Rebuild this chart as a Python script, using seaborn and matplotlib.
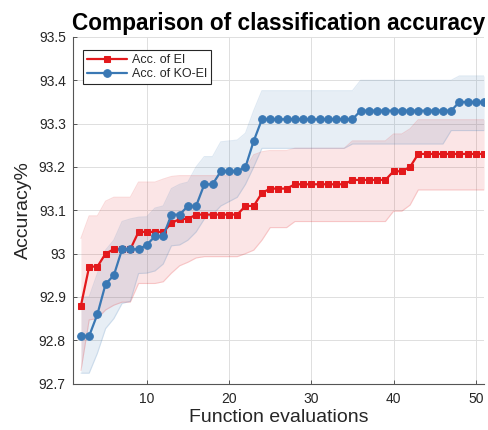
import matplotlib
matplotlib.use("Agg")
import matplotlib.pyplot as plt
import seaborn as sns
import pandas as pd
from matplotlib.ticker import FuncFormatter

# ---- data ----
evals = list(range(2, 52))

ei_mean = [92.88, 92.97, 92.97, 93.00, 93.01, 93.01, 93.01, 93.05, 93.05, 93.05,
           93.05, 93.07, 93.08, 93.08, 93.09, 93.09, 93.09, 93.09, 93.09, 93.09,
           93.11, 93.11, 93.14, 93.15, 93.15, 93.15, 93.16, 93.16, 93.16, 93.16,
           93.16, 93.16, 93.16, 93.17, 93.17, 93.17, 93.17, 93.17, 93.19, 93.19,
           93.20, 93.23, 93.23, 93.23, 93.23, 93.23, 93.23, 93.23, 93.23, 93.23]
ei_upper = [93.035, 93.087, 93.087, 93.121, 93.13, 93.13, 93.13, 93.165, 93.165, 93.165,
            93.172, 93.178, 93.18, 93.18, 93.18, 93.18, 93.18, 93.18, 93.18, 93.182,
            93.197, 93.228, 93.235, 93.238, 93.238, 93.238, 93.243, 93.243, 93.243, 93.243,
            93.243, 93.243, 93.243, 93.26, 93.26, 93.26, 93.26, 93.26, 93.276, 93.276,
            93.288, 93.309, 93.309, 93.309, 93.309, 93.309, 93.309, 93.309, 93.309, 93.309]
ei_lower = [92.73, 92.847, 92.85, 92.87, 92.881, 92.888, 92.888, 92.931, 92.931, 92.931,
            92.935, 92.955, 92.972, 92.98, 92.99, 92.993, 92.993, 92.993, 92.993, 92.993,
            93.0, 93.008, 93.031, 93.06, 93.06, 93.06, 93.074, 93.074, 93.074, 93.074,
            93.074, 93.074, 93.074, 93.074, 93.074, 93.074, 93.074, 93.074, 93.098, 93.098,
            93.112, 93.147, 93.147, 93.147, 93.147, 93.147, 93.147, 93.147, 93.147, 93.147]

ko_mean = [92.81, 92.81, 92.86, 92.93, 92.95, 93.01, 93.01, 93.01, 93.02, 93.04,
           93.04, 93.09, 93.09, 93.11, 93.11, 93.16, 93.16, 93.19, 93.19, 93.19,
           93.20, 93.26, 93.31, 93.31, 93.31, 93.31, 93.31, 93.31, 93.31, 93.31,
           93.31, 93.31, 93.31, 93.31, 93.33, 93.33, 93.33, 93.33, 93.33, 93.33,
           93.33, 93.33, 93.33, 93.33, 93.33, 93.33, 93.35, 93.35, 93.35, 93.35]
ko_upper = [92.9, 92.9, 92.954, 93.008, 93.031, 93.074, 93.08, 93.084, 93.085, 93.105,
            93.11, 93.15, 93.16, 93.165, 93.2, 93.224, 93.224, 93.258, 93.26, 93.262,
            93.278, 93.33, 93.376, 93.376, 93.376, 93.376, 93.376, 93.376, 93.376, 93.376,
            93.376, 93.376, 93.376, 93.376, 93.40, 93.40, 93.40, 93.40, 93.40, 93.40,
            93.40, 93.40, 93.40, 93.40, 93.40, 93.40, 93.41, 93.41, 93.41, 93.41]
ko_lower = [92.724, 92.724, 92.77, 92.827, 92.85, 92.885, 92.89, 92.954, 92.955, 92.96,
            92.976, 93.018, 93.02, 93.031, 93.05, 93.08, 93.09, 93.11, 93.12, 93.13,
            93.16, 93.20, 93.243, 93.243, 93.243, 93.243, 93.243, 93.243, 93.243, 93.243,
            93.243, 93.243, 93.243, 93.253, 93.253, 93.253, 93.253, 93.253, 93.253, 93.253,
            93.253, 93.253, 93.253, 93.253, 93.253, 93.284, 93.284, 93.284, 93.284, 93.284]

series_labels = ["Acc. of EI", "Acc. of KO-EI"]
x_ticks = [10, 20, 30, 40, 50]
y_ticks = [92.7, 92.8, 92.9, 93.0, 93.1, 93.2, 93.3, 93.4, 93.5]

RED = "#e3191c"
BLUE = "#3a78b4"

sns.set_style("whitegrid")
plt.rcParams["font.family"] = ["Liberation Sans", "DejaVu Sans"]

df = pd.DataFrame({"evals": evals, "ei": ei_mean, "ko": ko_mean})

fig = plt.figure(figsize=(4.88, 4.30), dpi=100)
ax = fig.add_axes([0.149, 0.108, 0.843, 0.806])

ax.fill_between(evals, ei_lower, ei_upper, facecolor=RED, alpha=0.11, lw=0, zorder=1)
ax.fill_between(evals, ko_lower, ko_upper, facecolor=BLUE, alpha=0.12, lw=0, zorder=1)
for lo, hi, c in [(ei_lower, ei_upper, RED), (ko_lower, ko_upper, BLUE)]:
    ax.plot(evals, lo, color=c, alpha=0.16, lw=0.8, zorder=1.5)
    ax.plot(evals, hi, color=c, alpha=0.16, lw=0.8, zorder=1.5)

sns.lineplot(data=df, x="evals", y="ei", ax=ax, color=RED, marker="s",
             markersize=4, markeredgecolor=RED, linewidth=1.6, label=series_labels[0], zorder=3)
sns.lineplot(data=df, x="evals", y="ko", ax=ax, color=BLUE, marker="o",
             markersize=5.5, markeredgecolor=BLUE, linewidth=1.6, label=series_labels[1], zorder=4)

ax.set_xlim(1, 51)
ax.set_ylim(92.7, 93.5)
ax.set_xticks(x_ticks)
ax.set_yticks(y_ticks)
ax.yaxis.set_major_formatter(FuncFormatter(lambda v, p: f"{v:g}"))

ax.grid(True, color="#dedede", linewidth=0.7)
ax.set_axisbelow(True)
for side in ["top", "right"]:
    ax.spines[side].set_visible(False)
for side in ["left", "bottom"]:
    ax.spines[side].set_color("#555555")
    ax.spines[side].set_linewidth(0.8)
ax.tick_params(direction="in", length=3, width=0.7, color="#555555",
               labelsize=10, labelcolor="#262626", left=True, bottom=True)
ax.tick_params(axis="y", pad=5)
ax.tick_params(axis="x", pad=6)

ax.set_xlabel("Function evaluations", fontsize=14, color="#262626", labelpad=2)
ax.set_ylabel("Accuracy%", fontsize=14, color="#262626", labelpad=5)
ax.set_title("Comparison of classification accuracy", fontsize=16.3,
             fontweight="bold", color="black", pad=5)

leg = ax.legend(loc="upper left", bbox_to_anchor=(0.026, 0.962), borderaxespad=0,
                fontsize=9, frameon=True, fancybox=False, handlelength=3.2,
                handletextpad=0.4, borderpad=0.3, labelspacing=0.2)
leg.get_frame().set_edgecolor("#262626")
leg.get_frame().set_linewidth(0.8)
leg.get_frame().set_alpha(1)

fig.savefig("out.png", dpi=100)
